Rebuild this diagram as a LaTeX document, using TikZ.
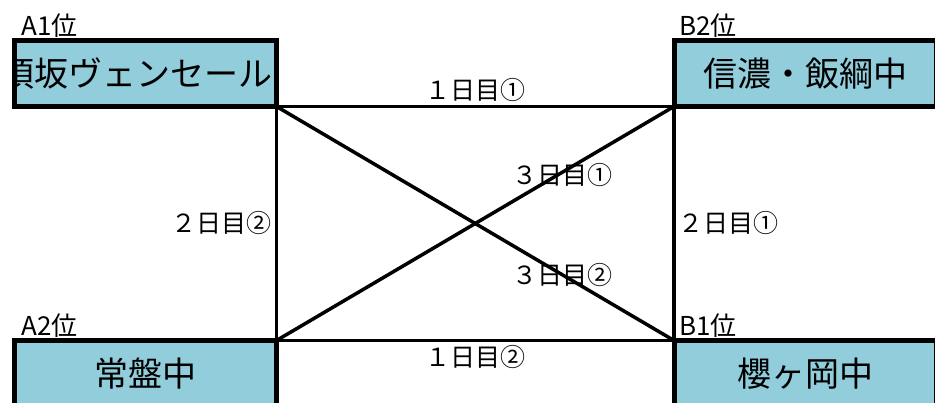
\documentclass[tikz,border=0pt]{standalone}
\usepackage{fontspec}
\setmainfont{Noto Sans CJK JP}
\usetikzlibrary{positioning}
\definecolor{teamblue}{HTML}{92CDDC}
\tikzstyle{team} = [draw, line width=5pt, fill=teamblue, rectangle, inner sep=0pt,
outer sep=0pt, minimum width=262pt, minimum height=66pt]
\tikzstyle{teamname} = [font=\fontsize{34}{40}\selectfont]
\tikzstyle{rank} = [inner sep=0pt, font=\fontsize{26}{30}\selectfont]
\tikzstyle{day} = [inner sep=3pt, font=\fontsize{25}{30}\selectfont]
\tikzstyle{match} = [line width=3.5pt]

\begin{document}
\begin{tikzpicture}[x=1pt, y=-1pt]
\path [use as bounding box] (0,0) rectangle (935,403);
\clip (0,0) rectangle (935,403);

% The four teams sit at the corners, the long name is cut by its box
\node [team, path picture={\node [teamname, anchor=east] (a1name)
  at ([xshift=-4pt]path picture bounding box.east) {須坂ヴェンセール};}] (a1) at (145.5,73.5) {};
\node [team, teamname] (b2) at (805,73.5) {信濃・飯綱中};
\node [team, teamname] (a2) at (145.5,373.5) {常盤中};
\node [team, teamname] (b1) at (805,373.5) {櫻ヶ岡中};

% seeds above each box
\node [rank, above right=3pt and 7pt of a1.north west] (a1rank) {A1位};
\node [rank, above right=3pt and 5pt of b2.north west] (b2rank) {B2位};
\node [rank, above right=3pt and 7pt of a2.north west] (a2rank) {A2位};
\node [rank, above right=3pt and 5pt of b1.north west] (b1rank) {B1位};

% games between the corners
\draw [match] (a1.south east) -- node [day, above] {１日目①} (b2.south west);
\draw [match] (a2.north east) -- node [day, below] {１日目②} (b1.north west);
\draw [match] (a1.south east) -- node [day, left] {２日目②} (a2.north east);
\draw [match] (b2.south west) -- node [day, right] {２日目①} (b1.north west);
\draw [match] (a2.north east) -- node [day, pos=.72, yshift=-3pt] {３日目①} (b2.south west);
\draw [match] (a1.south east) -- node [day, pos=.72] {３日目②} (b1.north west);
\end{tikzpicture}
\end{document}
